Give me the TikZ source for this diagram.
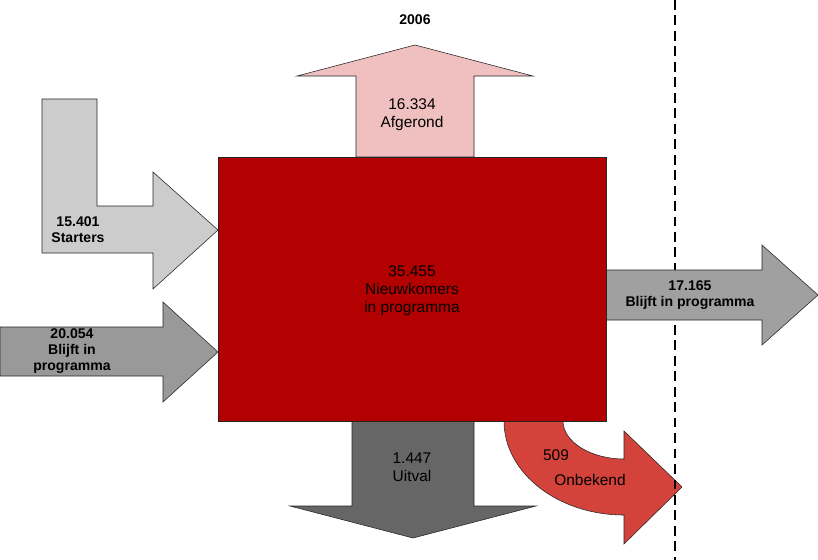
\documentclass[tikz,border=0pt]{standalone}
\usepackage{fontspec}
\setmainfont{Liberation Sans}
\definecolor{boxrood}{RGB}{179,0,0}
\definecolor{roze}{RGB}{240,192,192}
\definecolor{lichtgrijs}{RGB}{204,204,204}
\definecolor{middengrijs}{RGB}{153,153,153}
\definecolor{rechtsgrijs}{RGB}{160,160,160}
\definecolor{donkergrijs}{RGB}{102,102,102}
\definecolor{onbekendrood}{RGB}{212,67,59}
\begin{document}
\begin{tikzpicture}[x=0.025cm, y=-0.025cm,
  every node/.style={align=center, inner sep=0pt},
  vet/.style={font=\bfseries\fontsize{10}{11.3}\selectfont},
  gewoon/.style={font=\fontsize{11}{12.8}\selectfont},
  pijl/.style={draw=black!85, line width=0.4pt}]
\useasboundingbox (0,0) rectangle (818,560);
% instroom links
\filldraw[pijl, fill=lichtgrijs] (42,99) -- (97,99) -- (97,206) -- (153,206) -- (153,172) -- (218,230) -- (153,289) -- (153,253) -- (42,253) -- cycle;
\filldraw[pijl, fill=middengrijs] (0,327) -- (163,327) -- (163,302) -- (218,352) -- (163,402) -- (163,376) -- (0,376) -- cycle;
% uitstroom
\filldraw[pijl, fill=roze] (356,157) -- (356,76) -- (297,76) -- (415,45) -- (533,76) -- (474,76) -- (474,157) -- cycle;
\filldraw[pijl, fill=donkergrijs] (352,421) -- (352,506) -- (290,506) -- (413,538) -- (536,506) -- (474,506) -- (474,421) -- cycle;
\filldraw[pijl, fill=onbekendrood] (504,421) .. controls (504,473) and (558,515) .. (624,515) -- (624,544) -- (682,487) -- (624,431) -- (624,459) .. controls (591,459) and (563,442) .. (563,421) -- cycle;
% grens
\draw[line width=1.6pt, dash pattern=on 7pt off 4pt] (675,0) -- (675,560);
\filldraw[pijl, fill=rechtsgrijs] (606,270) -- (762,270) -- (762,245) -- (818,295) -- (762,345) -- (762,320) -- (606,320) -- cycle;
% hoofdblok
\filldraw[pijl, fill=boxrood] (218,157) rectangle (606,421);
\node[vet] (jaar) at (415,20) {2006};
\node[gewoon] (afgerond) at (412,115) {16.334\\Afgerond};
\node[vet] (starters) at (78,230) {15.401\\Starters};
\node[vet] (blijftin) at (72,351) {20.054\\Blijft in\\programma};
\node[gewoon] (nieuw) at (412,291) {35.455\\Nieuwkomers\\in programma};
\node[vet] (blijftuit) at (690,295) {17.165\\Blijft in programma};
\node[gewoon] (uitval) at (412,467) {1.447\\Uitval};
\node[gewoon] (aantal) at (556,455) {509};
\node[gewoon] (onbekend) at (590,480) {Onbekend};
\end{tikzpicture}
\end{document}
